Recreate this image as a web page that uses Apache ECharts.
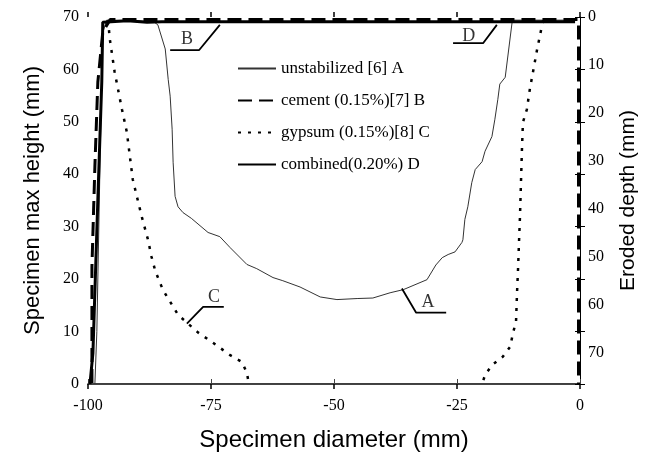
<!DOCTYPE html>
<html><head><meta charset="utf-8">
<script src="https://cdn.jsdelivr.net/npm/echarts@6/dist/echarts.min.js"></script>
<style>html,body{margin:0;padding:0;background:#fff}#c{width:650px;height:468px}</style>
</head><body><div id="c"></div>
<script>
// ---- data ----
const xTicks = [-100, -75, -50, -25, 0];
const leftTicks = [0, 10, 20, 30, 40, 50, 60, 70];
const rightTicks = [0, 10, 20, 30, 40, 50, 60, 70];

const unstabilizedX = [-98.6, -98.2, -97.5, -97.0, -96.2, -90.0, -86.5, -85.8, -84.3, -83.7, -83.3, -82.9, -82.7, -82.3, -81.7, -80.7, -79.0, -75.6, -73.2, -71.1, -67.7, -65.7, -62.4, -60.4, -56.9, -52.8, -49.4, -45.3, -42.1, -38.6, -35.9, -31.1, -29.3, -28.0, -26.8, -25.4, -24.0, -23.8, -23.4, -22.8, -22.0, -21.3, -19.9, -19.3, -17.9, -17.3, -16.7, -16.3, -15.2, -13.8, -13.5, -1.0];
const unstabilizedY = [0, 10, 45, 67, 69.4, 69.3, 69.0, 68.5, 63.9, 58.1, 54.9, 48.6, 42.3, 35.8, 33.8, 32.7, 31.6, 28.9, 28.1, 26.0, 22.8, 22.0, 20.3, 19.7, 18.5, 16.6, 16.1, 16.3, 16.4, 17.4, 18.0, 19.9, 22.7, 24.1, 24.7, 25.2, 27.0, 27.5, 31.4, 33.8, 38.4, 40.9, 42.4, 44.4, 47.2, 50.5, 54.3, 57.2, 58.5, 69.0, 69.4, 69.4];

const cementX = [-99.2, -99.2, -98.6, -98.0, -97.0, -95.5, -50.0, -0.3, -0.3];
const cementY = [0.2, 22.4, 41.5, 57.6, 67.1, 69.5, 69.5, 69.5, 0];

const gypsumLeftX = [-95.9, -95.6, -94.6, -93.1, -92.1, -90.9, -89.1, -87.8, -87.1, -86.3, -84.8, -81.7, -79.9, -77.6, -74.8, -71.1, -68.7, -67.7, -67.3];
const gypsumLeftY = [69.4, 66.0, 59.6, 52.4, 48.0, 39.0, 32.0, 27.5, 24.3, 21.5, 18.0, 13.2, 11.7, 9.8, 8.0, 5.5, 4.2, 2.1, 0];
const gypsumRightX = [-7.5, -8.7, -10.2, -10.8, -11.6, -11.8, -12.0, -12.2, -12.4, -12.6, -12.8, -13.0, -13.6, -14.2, -15.7, -17.9, -19.3, -19.9];
const gypsumRightY = [69.4, 63.9, 56.2, 52.4, 49.9, 44.7, 38.4, 31.9, 27.0, 21.8, 17.4, 11.9, 9.8, 7.1, 5.2, 3.6, 1.7, 0];

const combinedX = [-99.6, -99.0, -98.0, -97.2, -97.0, -92.0, -88.0, -85.0, -1.0];
const combinedY = [0, 5.9, 35.2, 57.6, 69.0, 69.3, 69.0, 69.1, 69.1];

const seriesNames = ['unstabilized [6] A', 'cement (0.15%)[7] B', 'gypsum (0.15%)[8] C', 'combined(0.20%) D'];

// annotation leader lines and labels (data coordinates)
const leaderAX = [-36.2, -33.3, -27.2], leaderAY = [18.2, 13.6, 13.6];
const leaderBX = [-83.3, -77.4, -73.2], leaderBY = [63.7, 63.7, 68.5];
const leaderCX = [-79.9, -76.6, -72.4], leaderCY = [11.5, 14.7, 14.7];
const leaderDX = [-25.8, -19.7, -16.9], leaderDY = [65.0, 65.0, 68.5];
const labelNames = ['A', 'B', 'C', 'D'];
const labelX = [-30.9, -79.9, -74.4, -22.6];
const labelY = [15.5, 65.8, 16.6, 66.3];

// ---- build ----
const zip = (xs, ys) => xs.map((x, i) => [x, ys[i]]);
const serif = 'Liberation Serif';
const sans = 'Liberation Sans';

const leaderSeries = [[leaderAX, leaderAY], [leaderBX, leaderBY], [leaderCX, leaderCY], [leaderDX, leaderDY]].map(([xs, ys], i) => ({
  type: 'line', name: 'leader' + i, data: zip(xs, ys), showSymbol: false, symbol: 'none',
  lineStyle: { color: '#000', width: 1.8 }, z: 5, silent: true
}));

const chart = echarts.init(document.getElementById('c'), null, { renderer: 'canvas' });
chart.setOption({
  animation: false,
  backgroundColor: '#fff',
  grid: { left: 88, right: 70, top: 17, bottom: 84, containLabel: false },
  legend: {
    data: seriesNames,
    orient: 'vertical', left: 232, top: 55,
    itemWidth: 38, itemHeight: 14, itemGap: 15,
    itemStyle: { opacity: 0, borderWidth: 0 },
    textStyle: { fontFamily: serif, fontSize: 17, color: '#000' }
  },
  xAxis: [
    { type: 'value', min: -100, max: 0, interval: 25, position: 'bottom',
      axisLine: { show: true, lineStyle: { color: '#000', width: 1.5 } },
      axisTick: { show: true, length: 5, lineStyle: { color: '#000', width: 1.5 } },
      axisLabel: { fontFamily: serif, fontSize: 16, color: '#000', margin: 14 },
      splitLine: { show: false },
      name: 'Specimen diameter (mm)', nameLocation: 'middle', nameGap: 44,
      nameTextStyle: { fontFamily: sans, fontSize: 24, color: '#000' } },
    { type: 'value', min: -100, max: 0, interval: 25, position: 'bottom',
      axisLine: { show: false }, axisTick: { show: true, inside: true, length: 5, lineStyle: { color: '#000', width: 1.5 } },
      axisLabel: { show: false }, splitLine: { show: false } },
    { type: 'value', min: -100, max: 0, interval: 25, position: 'top',
      axisLine: { show: true, lineStyle: { color: '#444', width: 1 } },
      axisTick: { show: true, length: 5, lineStyle: { color: '#444', width: 1 } },
      axisLabel: { show: false }, splitLine: { show: false } }
  ],
  yAxis: [
    { type: 'value', min: 0, max: 70, interval: 10, position: 'left',
      axisLine: { show: false }, axisTick: { show: false },
      axisLabel: { fontFamily: serif, fontSize: 16, color: '#000', margin: 9 },
      splitLine: { show: false },
      name: 'Specimen max height (mm)', nameLocation: 'middle', nameGap: 44, nameRotate: 90,
      nameTextStyle: { fontFamily: sans, fontSize: 22, color: '#000' } },
    { type: 'value', min: 0, max: 76.5, interval: 10, position: 'right', inverse: true,
      axisLine: { show: true, lineStyle: { color: '#000', width: 1 } }, axisTick: { show: false },
      axisLabel: { fontFamily: serif, fontSize: 16, color: '#000', margin: 8, showMaxLabel: false,
        formatter: v => (rightTicks.indexOf(v) >= 0 ? String(v) : '') },
      splitLine: { show: false },
      name: 'Eroded depth (mm)', nameLocation: 'middle', nameGap: 38, nameRotate: 90,
      nameTextStyle: { fontFamily: sans, fontSize: 21, color: '#000' } },
    { type: 'value', min: 0, max: 70, interval: 10, position: 'right', offset: -5,
      axisLine: { show: false }, axisTick: { show: true, length: 10, lineStyle: { color: '#000', width: 1 } },
      axisLabel: { show: false }, splitLine: { show: false } }
  ],
  series: [
    { type: 'line', name: seriesNames[0], data: zip(unstabilizedX, unstabilizedY), symbol: 'none',
      lineStyle: { color: '#333', width: 1 }, itemStyle: { color: '#666' }, z: 2 },
    { type: 'line', name: seriesNames[2], data: zip(gypsumLeftX, gypsumLeftY), symbol: 'none',
      lineStyle: { color: '#000', width: 2.5, type: [3, 7] }, itemStyle: { color: '#000' }, z: 3 },
    { type: 'line', name: seriesNames[2], data: zip(gypsumRightX, gypsumRightY), symbol: 'none',
      lineStyle: { color: '#000', width: 2.5, type: [3, 7] }, itemStyle: { color: '#000' }, z: 3 },
    { type: 'line', name: seriesNames[3], data: zip(combinedX, combinedY), symbol: 'none',
      lineStyle: { color: '#000', width: 3 }, itemStyle: { color: '#000' }, z: 4 },
    { type: 'line', name: seriesNames[1], data: zip(cementX, cementY), symbol: 'none',
      lineStyle: { color: '#000', width: 3, type: [14, 7] }, itemStyle: { color: '#000' }, z: 5 },
    ...leaderSeries,
    { type: 'scatter', name: 'labels', symbolSize: 1, itemStyle: { color: 'rgba(0,0,0,0)' },
      data: labelNames.map((n, i) => ({ name: n, value: [labelX[i], labelY[i]] })),
      label: { show: true, position: 'inside', formatter: '{b}', fontFamily: serif, fontSize: 18, color: '#000' },
      z: 6, silent: true }
  ]
});
</script></body></html>
